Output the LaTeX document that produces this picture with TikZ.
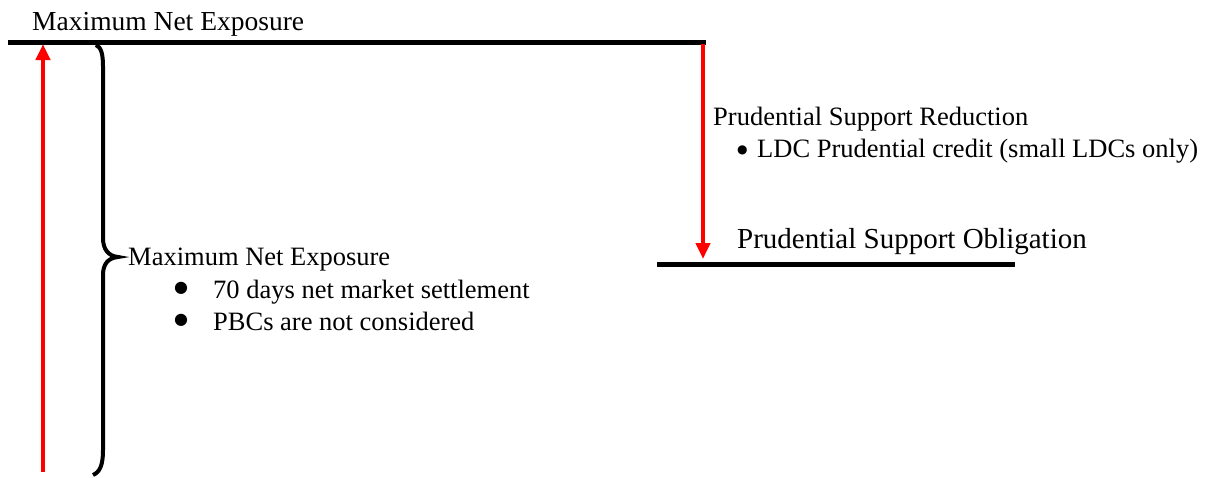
\documentclass[tikz,border=0pt]{standalone}
\usepackage{fontspec}
\usetikzlibrary{arrows.meta}
\setmainfont{Liberation Serif}
\newfontfamily\dejavu{DejaVu Sans}
\newcommand{\bigbul}{\raisebox{6pt}{\dejavu\fontsize{16}{18}\selectfont ●}}
\newcommand{\smbul}{\raisebox{3.5pt}{\dejavu\fontsize{12}{14}\selectfont ●}}
\begin{document}
\begin{tikzpicture}[x=1pt,y=-1pt,
  bar/.style={line width=5pt,black},
  redarrow/.style={line width=4pt,red,-{Triangle[length=16pt,width=14pt]}},
  lbl/.style={anchor=base west,inner sep=0pt,font=\fontsize{26.5}{32}\selectfont},
  big/.style={anchor=base west,inner sep=0pt,font=\fontsize{29}{34}\selectfont},
  top/.style={anchor=base west,inner sep=0pt,font=\fontsize{27.5}{33}\selectfont}]
\useasboundingbox (0,0) rectangle (1217,477);
% lines
\coordinate (t1) at (8,42);
\coordinate (t2) at (706,42);
\draw[bar] (t1) -- (t2);
\coordinate (b1) at (657,264);
\coordinate (b2) at (1015,264);
\draw[bar] (b1) -- (b2);
% arrows
\coordinate (ua) at (43,472);
\coordinate (ub) at (43,44);
\draw[redarrow] (ua) -- (ub);
\coordinate (da) at (703,44);
\coordinate (db) at (703,259);
\draw[redarrow] (da) -- (db);
% brace
\draw[line width=4pt,black] (96,45) .. controls (101,47) and (103,54) .. (103,66) -- (103,238)
  .. controls (103,249) and (108,256) .. (118,257)
  .. controls (108,258) and (103,264) .. (103,275) -- (103,450)
  .. controls (103,465) and (100,472) .. (93,475);
% texts
\node[top] (tmne) at (32,30) {Maximum Net Exposure};
\node[lbl] (mne) at (128,265) {Maximum Net Exposure};
\node[lbl] (m1) at (174,298) {\makebox[39pt][l]{\bigbul}70 days net market settlement};
\node[lbl] (m2) at (174,330) {\makebox[39pt][l]{\bigbul}PBCs are not considered};
\node[lbl] (psr) at (713,125) {Prudential Support Reduction};
\node[lbl] (p1) at (737,157) {\makebox[20pt][l]{\smbul}LDC Prudential credit (small LDCs only)};
\node[big] (pso) at (737,248) {Prudential Support Obligation};
\end{tikzpicture}
\end{document}
